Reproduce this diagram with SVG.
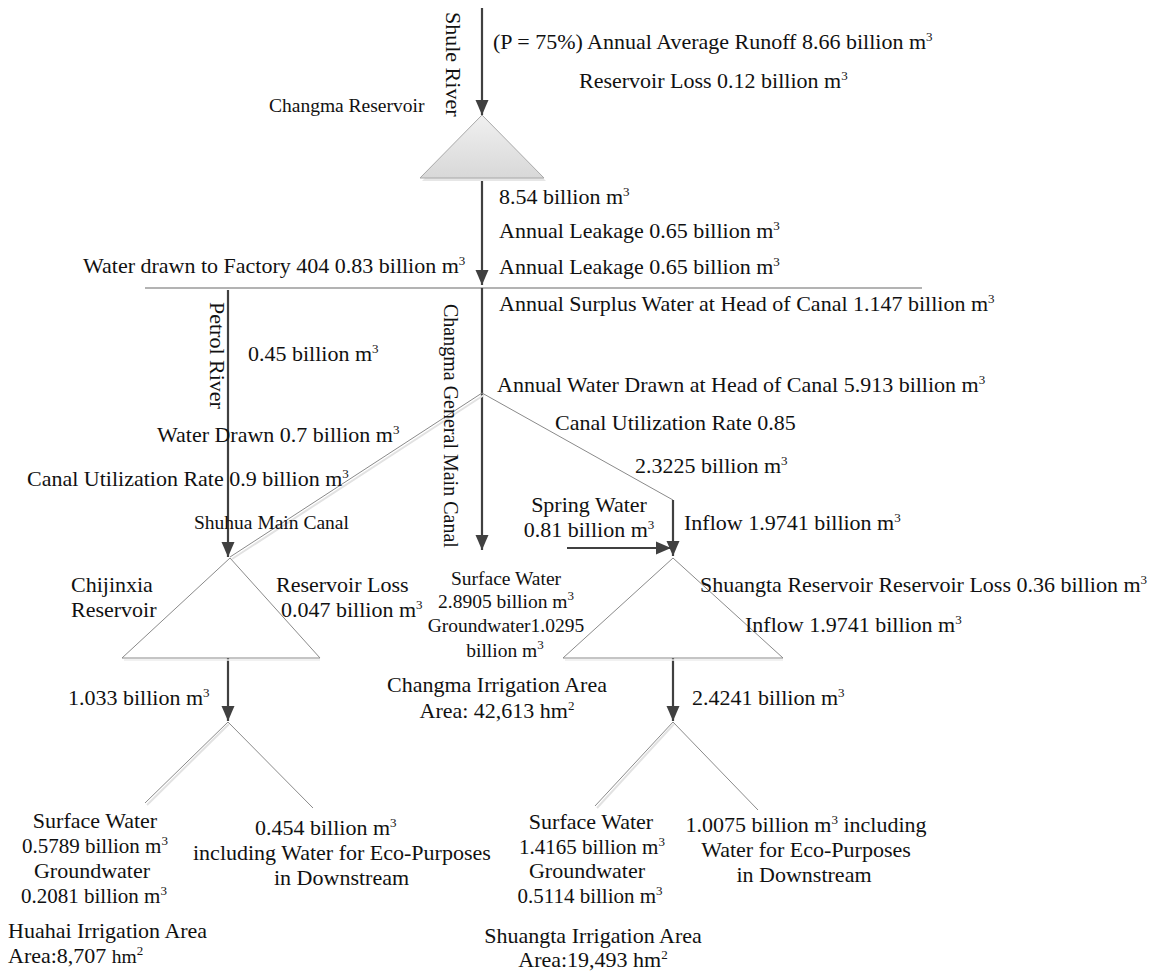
<svg xmlns="http://www.w3.org/2000/svg" width="1155" height="972" viewBox="0 0 1155 972">
<defs>
<marker id="ah" markerUnits="userSpaceOnUse" markerWidth="16" markerHeight="14" refX="15" refY="7" orient="auto">
<path d="M0,0.5 L15,7 L0,13.5 z" fill="#404040"/>
</marker>
<linearGradient id="gfill" x1="0" y1="0" x2="0" y2="1">
<stop offset="0" stop-color="#f0f0f0"/>
<stop offset="1" stop-color="#d8d8d8"/>
</linearGradient>
</defs>
<style>
text{font-family:"Liberation Serif","Times New Roman",serif;font-size:22px;fill:#111}
.s{font-size:19.5px}
.v{font-size:20px}
.n{font-size:21px}
.sup{font-size:13px}
.c{text-anchor:middle}
.arrow{stroke:#404040;stroke-width:2.2;fill:none;marker-end:url(#ah)}
.thin{stroke:#8a8a8a;stroke-width:1;fill:none}
.shadow{fill:none;stroke:#e2e2e2;stroke-width:2}
.tri{fill:#fff;stroke:#8a8a8a;stroke-width:1}
</style>
<rect width="1155" height="972" fill="#fff"/>

<g id="connectors">
<line class="arrow" x1="482" y1="8" x2="482" y2="115"/>
<line class="arrow" x1="482" y1="178" x2="482" y2="285"/>
<line x1="145" y1="288" x2="922" y2="288" stroke="#9a9a9a" stroke-width="1.5"/>
<line class="arrow" x1="228" y1="290" x2="228" y2="557"/>
<line class="arrow" x1="482" y1="288" x2="482" y2="550"/>
<polyline class="shadow" points="484,395 232,559"/>
<line class="thin" x1="482" y1="393" x2="230" y2="557"/>
<line class="thin" x1="482" y1="393" x2="673" y2="500"/>
<line class="arrow" x1="673" y1="500" x2="673" y2="556"/>
<line class="arrow" x1="567" y1="548" x2="671" y2="548"/>
<line class="arrow" x1="228" y1="658" x2="228" y2="721"/>
<line class="arrow" x1="673" y1="658" x2="673" y2="721"/>
<polyline class="shadow" points="147,805 229,724"/>
<polyline class="thin" points="145,803 228,722 313,808"/>
<polyline class="shadow" points="597,808 674,724"/>
<polyline class="thin" points="595,806 673,722 758,810"/>
</g>

<g id="shule-river">
<text transform="translate(446,12) rotate(90)">Shule River</text>
<text x="493" y="49">(P = 75%) Annual Average Runoff 8.66 billion m<tspan class="sup" dy="-8">3</tspan></text>
<text x="579" y="88">Reservoir Loss 0.12 billion m<tspan class="sup" dy="-8">3</tspan></text>
</g>

<g id="changma-reservoir">
<polygon points="484,118 546,181 422,181" fill="#e6e6e6" stroke="none"/>
<polygon points="482,115 544,178 420,178" fill="url(#gfill)" stroke="#a8a8a8" stroke-width="1"/>
<text class="s" x="269" y="112">Changma Reservoir</text>
<text x="499" y="204">8.54 billion m<tspan class="sup" dy="-8">3</tspan></text>
<text x="499" y="238">Annual Leakage 0.65 billion m<tspan class="sup" dy="-8">3</tspan></text>
<text x="499" y="274">Annual Leakage 0.65 billion m<tspan class="sup" dy="-8">3</tspan></text>
</g>

<g id="factory-404">
<text x="83" y="273">Water drawn to Factory 404 0.83 billion m<tspan class="sup" dy="-8">3</tspan></text>
</g>

<g id="canal-head">
<text x="499" y="311">Annual Surplus Water at Head of Canal 1.147 billion m<tspan class="sup" dy="-8">3</tspan></text>
<text x="497" y="392">Annual Water Drawn at Head of Canal 5.913 billion m<tspan class="sup" dy="-8">3</tspan></text>
<text class="v" transform="translate(444,304) rotate(90)">Changma General Main Canal</text>
<text x="555" y="430">Canal Utilization Rate 0.85</text>
<text x="635" y="473">2.3225 billion m<tspan class="sup" dy="-8">3</tspan></text>
</g>

<g id="petrol-river">
<text transform="translate(210,302) rotate(90)">Petrol River</text>
<text x="248" y="361">0.45 billion m<tspan class="sup" dy="-8">3</tspan></text>
<text x="157" y="442">Water Drawn 0.7 billion m<tspan class="sup" dy="-8">3</tspan></text>
<text x="27" y="486">Canal Utilization Rate 0.9 billion m<tspan class="sup" dy="-8">3</tspan></text>
<text class="s" x="194" y="529">Shuhua Main Canal</text>
</g>

<g id="spring-water">
<text class="c" x="589" y="512">Spring Water</text>
<text class="c" x="589" y="537">0.81 billion m<tspan class="sup" dy="-8">3</tspan></text>
<text x="684" y="530">Inflow 1.9741 billion m<tspan class="sup" dy="-8">3</tspan></text>
</g>

<g id="chijinxia-reservoir">
<polygon class="tri" points="230,558 320,658 122,658"/>
<line x1="124" y1="660" x2="320" y2="660" stroke="#ececec" stroke-width="1.5"/>
<text x="71" y="592">Chijinxia</text>
<text x="71" y="617">Reservoir</text>
<text x="276" y="592">Reservoir Loss</text>
<text x="281" y="617">0.047 billion m<tspan class="sup" dy="-8">3</tspan></text>
<text x="68" y="705">1.033 billion m<tspan class="sup" dy="-8">3</tspan></text>
</g>

<g id="changma-irrigation-area">
<text class="s c" x="506" y="585">Surface Water</text>
<text class="s c" x="506" y="608">2.8905 billion m<tspan class="sup" dy="-8">3</tspan></text>
<text class="s c" x="506" y="632">Groundwater1.0295</text>
<text class="s c" x="505" y="657">billion m<tspan class="sup" dy="-8">3</tspan></text>
<text class="c" x="497" y="692">Changma Irrigation Area</text>
<text class="c" x="497" y="718">Area: 42,613 hm<tspan class="sup" dy="-8">2</tspan></text>
</g>

<g id="shuangta-reservoir">
<polygon class="tri" points="673,558 783,658 563,658"/>
<line x1="565" y1="660" x2="783" y2="660" stroke="#ececec" stroke-width="1.5"/>
<text x="700" y="592">Shuangta Reservoir Reservoir Loss 0.36 billion m<tspan class="sup" dy="-8">3</tspan></text>
<text x="745" y="632">Inflow 1.9741 billion m<tspan class="sup" dy="-8">3</tspan></text>
<text x="692" y="705">2.4241 billion m<tspan class="sup" dy="-8">3</tspan></text>
</g>

<g id="huahai-irrigation-area">
<text class="c" x="95" y="828">Surface Water</text>
<text class="c n" x="95" y="853">0.5789 billion m<tspan class="sup" dy="-8">3</tspan></text>
<text class="c" x="92" y="878">Groundwater</text>
<text class="c n" x="94" y="903">0.2081 billion m<tspan class="sup" dy="-8">3</tspan></text>
<text x="8" y="938">Huahai Irrigation Area</text>
<text x="8" y="963">Area:8,707 <tspan class="s">hm</tspan><tspan class="sup" dy="-8">2</tspan></text>
</g>

<g id="huahai-downstream">
<text x="255" y="835">0.454 billion m<tspan class="sup" dy="-8">3</tspan></text>
<text x="193" y="860">including Water for Eco-Purposes</text>
<text x="274" y="885">in Downstream</text>
</g>

<g id="shuangta-irrigation-area">
<text class="c" x="591" y="829">Surface Water</text>
<text class="c n" x="592" y="854">1.4165 billion m<tspan class="sup" dy="-8">3</tspan></text>
<text class="c" x="587" y="878">Groundwater</text>
<text class="c n" x="590" y="903">0.5114 billion m<tspan class="sup" dy="-8">3</tspan></text>
<text class="c" x="593" y="943">Shuangta Irrigation Area</text>
<text class="c" x="593" y="967">Area:19,493 hm<tspan class="sup" dy="-8">2</tspan></text>
</g>

<g id="shuangta-downstream">
<text class="c" x="806" y="832">1.0075 billion m<tspan class="sup" dy="-8">3</tspan><tspan dy="8"> including</tspan></text>
<text class="c" x="806" y="857">Water for Eco-Purposes</text>
<text class="c" x="804" y="882">in Downstream</text>
</g>
</svg>
